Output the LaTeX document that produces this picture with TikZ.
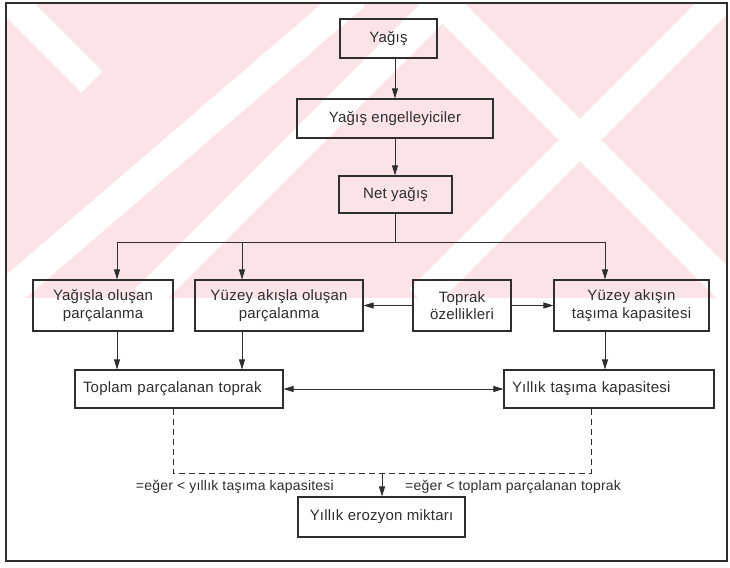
\documentclass[tikz,border=0pt]{standalone}
\usepackage{fontspec}
\setmainfont[LetterSpace=1.5]{Liberation Sans}
\usetikzlibrary{arrows.meta}
\definecolor{ink}{HTML}{2E2E2E}
\definecolor{wmpink}{HTML}{FBE3E7}
\begin{document}
\begin{tikzpicture}[x=1pt,y=-1pt,
  box/.style={draw=ink, line width=1.1pt, align=center, text=ink, inner sep=0pt,
              font=\fontsize{15}{17.5}\selectfont},
  line/.style={draw=ink, line width=0.9pt},
  arr/.style={line, -{Triangle[length=10pt,width=6pt]}},
  arrr/.style={line, {Triangle[length=10pt,width=6pt]}-{Triangle[length=10pt,width=6pt]}},
  dashline/.style={line, dash pattern=on 6pt off 4pt},
  lbl/.style={text=ink, inner sep=0pt, font=\fontsize{14}{16}\selectfont}]
\useasboundingbox (0,0) rectangle (730,567);
\fill[white] (0,0) rectangle (730,567);
% watermark
\fill[wmpink] (7,4) rectangle (726,298);
\begin{scope}
  \clip (7,4) rectangle (726,298);
  \draw[white, line width=30pt] (5,-5) -- (92,82);
  \draw[white, line width=30pt] (355,-5) -- (0,300);
  \draw[white, line width=30pt] (450,-5) -- (145,300);
  \draw[white, line width=30pt] (435,-5) -- (740,300);
  \draw[white, line width=30pt] (725,-5) -- (420,300);
\end{scope}
% frame
\draw[ink, line width=2pt] (6,3) rectangle (727,561);
% nodes
\node[box, minimum width=97, minimum height=39] (yagis) at (388.5,38.5) {Yağış};
\node[box, minimum width=196, minimum height=39] (engel) at (395,118.5) {Yağış engelleyiciler};
\node[box, minimum width=113, minimum height=37] (net) at (395.5,194.5) {Net yağış};
\node[box, minimum width=140, minimum height=51] (r1) at (103,305.5) {Yağışla oluşan\\parçalanma};
\node[box, minimum width=168, minimum height=51] (r2) at (279,305.5) {Yüzey akışla oluşan\\parçalanma};
\node[box, minimum width=98, minimum height=51] (toprak) at (462,305.5) {Toprak\\özellikleri};
\node[box, minimum width=155, minimum height=51] (r4) at (631.5,305.5) {Yüzey akışın\\taşıma kapasitesi};
\node[box, minimum width=208, minimum height=38, text width=192, align=left] (toplam) at (179,389) {Toplam parçalanan toprak};
\node[box, minimum width=210, minimum height=38, text width=194, align=left] (yillik) at (609,389) {Yıllık taşıma kapasitesi};
\node[box, minimum width=167, minimum height=40] (eroz) at (381.5,517) {Yıllık erozyon miktarı};
% coordinates
\coordinate (bA) at (117,242);
\coordinate (bB) at (242,242);
\coordinate (bD) at (605,242);
\coordinate (dl) at (173,473);
\coordinate (dm) at (382,473);
\coordinate (dr) at (591,473);
% connectors
\draw[arr] (yagis.south -| engel.north) -- (engel.north);
\draw[arr] (engel.south) -- (engel.south |- net.north);
\draw[line] (net.south) -- (net.south |- bA);
\draw[line] (bA) -- (bD);
\draw[arr] (bA) -- (bA |- r1.north);
\draw[arr] (bB) -- (bB |- r2.north);
\draw[arr] (bD) -- (bD |- r4.north);
\draw[arr] (toprak.west) -- (r2.east);
\draw[arr] (toprak.east) -- (r4.west);
\draw[arr] (r1.south -| bA) -- (bA |- toplam.north);
\draw[arr] (r2.south -| bB) -- (bB |- toplam.north);
\draw[arr] (r4.south -| bD) -- (bD |- yillik.north);
\draw[arrr] (toplam.east) -- (yillik.west);
\draw[dashline] (toplam.south -| dl) -- (dl) -- (dr) -- (yillik.south -| dr);
\draw[arr] (dm) -- (dm |- eroz.north);
% labels
\node[lbl, anchor=east] (lab1) at (334,487) {=eğer < yıllık taşıma kapasitesi};
\node[lbl, anchor=west] (lab2) at (405,487) {=eğer < toplam parçalanan toprak};
\end{tikzpicture}
\end{document}
